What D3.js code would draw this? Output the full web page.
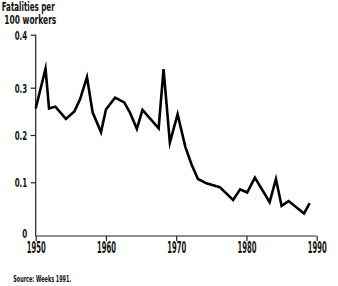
<!DOCTYPE html>
<html><head><meta charset="utf-8">
<script src="https://cdn.jsdelivr.net/npm/d3@7"></script>
<style>
body{margin:0;background:#fff;}
text{font-family:"Liberation Sans Narrow","DejaVu Sans Condensed",sans-serif;fill:#111;font-weight:bold;}
</style></head>
<body><svg id="c" width="338" height="286"></svg>
<script>
const years = [1950,1951.4,1951.9,1952.8,1954.3,1955.5,1956.3,1957.3,1958.1,1959.3,1960,1961.3,1962.6,1963.4,1964.4,1965.2,1967.5,1968.2,1969.1,1970.2,1971.3,1972.2,1973.1,1974.3,1976.2,1978.1,1979.1,1980.1,1981.2,1983.3,1984.2,1985,1986,1988.2,1989];
const values = [0.256,0.336,0.256,0.26,0.234,0.25,0.275,0.32,0.248,0.206,0.254,0.279,0.269,0.248,0.213,0.253,0.214,0.335,0.184,0.244,0.175,0.137,0.107,0.098,0.091,0.067,0.087,0.081,0.110,0.063,0.107,0.056,0.065,0.042,0.061];
const xTicks = [1950,1960,1970,1980,1990];
const yTicks = [0,0.1,0.2,0.3,0.4];
const yTickLabels = ["0","0.1","0.2","0.3","0.4"];

const svg = d3.select("#c");
const x = d3.scaleLinear().domain([1950,1990]).range([35.7,316.7]);
const y = d3.scaleLinear().domain(yTicks).range([236,182.3,135,87.7,34.7]);

svg.append("line").attr("x1",x(1950)).attr("x2",x(1950)).attr("y1",y(0.4)).attr("y2",y(0)).attr("stroke","#222").attr("stroke-width",1.2);
svg.append("line").attr("x1",x(1950)).attr("x2",x(1990)).attr("y1",y(0)).attr("y2",y(0)).attr("stroke","#222").attr("stroke-width",1.2);

const ya = svg.append("g").attr("transform",`translate(${x(1950)},0)`)
  .call(d3.axisLeft(y).tickValues(yTicks).tickSize(5).tickFormat((d,i)=>yTickLabels[i]));
ya.select(".domain").remove();
ya.selectAll(".tick line").attr("stroke","#222").attr("stroke-width",1.2)
  .attr("display",d=>d===0?"none":null);
ya.selectAll(".tick text").attr("font-size",12.5).attr("x",-8.5).attr("dy",d=>d===0?"0.1em":"0.35em")
  .attr("textLength",d=>d===0?5:12.5).attr("lengthAdjust","spacingAndGlyphs");

const xa = svg.append("g").attr("transform",`translate(0,${y(0)})`)
  .call(d3.axisBottom(x).tickValues(xTicks).tickSize(5).tickFormat(d3.format("d")));
xa.select(".domain").remove();
xa.selectAll(".tick line").attr("stroke","#222").attr("stroke-width",1.2);
xa.selectAll(".tick text").attr("font-size",15).attr("y",6.5).attr("dy","0.71em")
  .attr("textLength",19).attr("lengthAdjust","spacingAndGlyphs");

svg.append("path").datum(years.map((yr,i)=>[yr,values[i]]))
  .attr("fill","none").attr("stroke","#000").attr("stroke-width",2.6)
  .attr("stroke-linejoin","miter").attr("stroke-miterlimit",10)
  .attr("d",d3.line().x(d=>x(d[0])).y(d=>y(d[1])));

svg.append("text").attr("x",1.7).attr("y",11).attr("font-size",11.5)
  .attr("textLength",53).attr("lengthAdjust","spacingAndGlyphs").text("Fatalities per");
svg.append("text").attr("x",4.3).attr("y",24).attr("font-size",11.5)
  .attr("textLength",52).attr("lengthAdjust","spacingAndGlyphs").text("100 workers");
svg.append("text").attr("x",13.3).attr("y",281.5).attr("font-size",8.5)
  .attr("textLength",58).attr("lengthAdjust","spacingAndGlyphs").text("Source: Weeks 1991.");
</script></body></html>
